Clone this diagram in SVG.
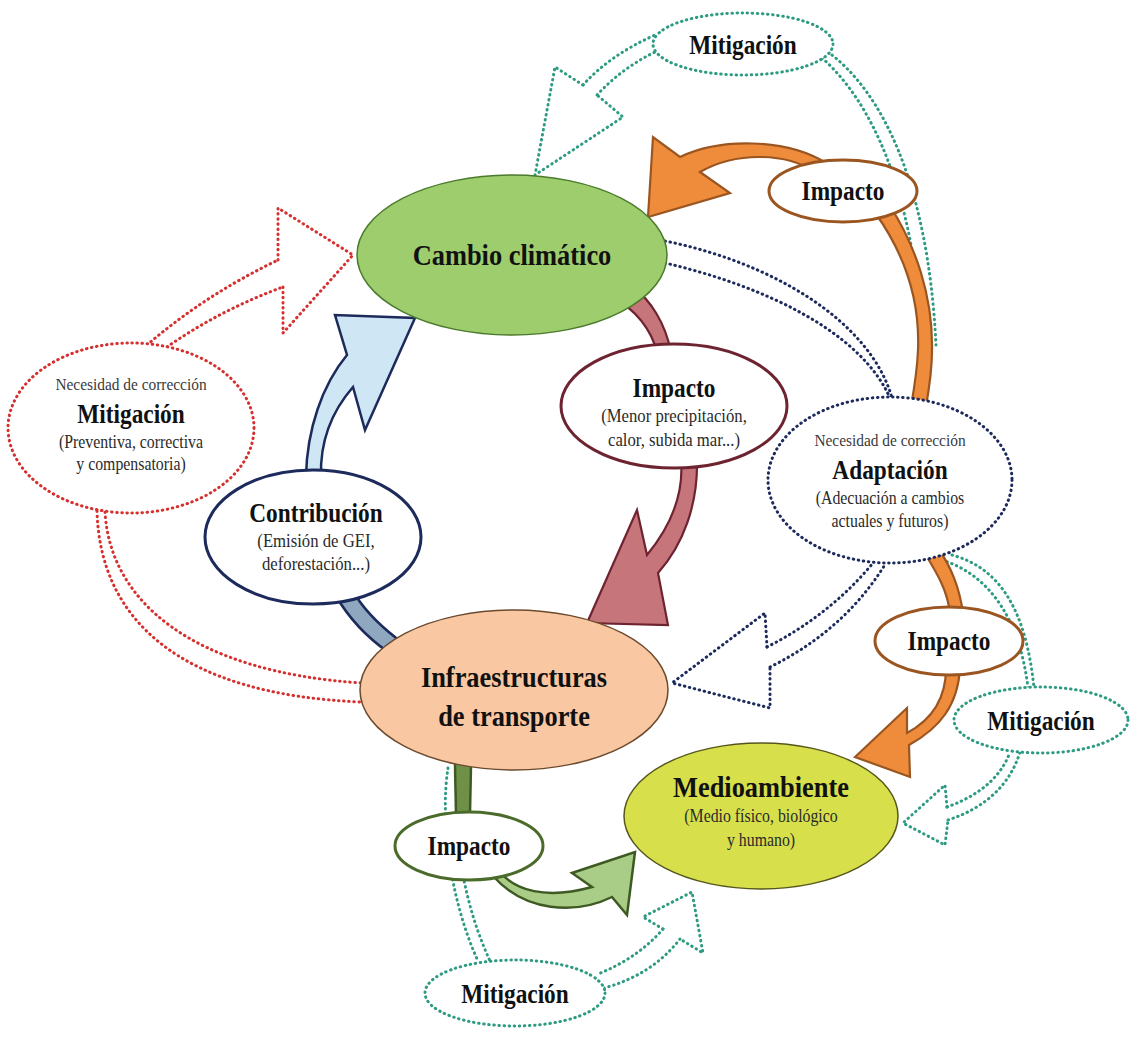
<svg xmlns="http://www.w3.org/2000/svg" width="1130" height="1037" viewBox="0 0 1130 1037">
<style>
.dot{fill:none;stroke-width:3;stroke-linecap:round;stroke-linejoin:round;stroke-dasharray:0.5 4.6}
.red{stroke:#d6302e}
.navy{stroke:#1c2a5c}
.teal{stroke:#2d9b82}
.dn{fill:#fff}
.or{fill:#ee8c3c;stroke:#9a5521;stroke-width:2.2;stroke-linejoin:miter}
.mr{fill:#c6767b;stroke:#6e2430;stroke-width:2.2}
.bl{fill:#cfe6f5;stroke:#1c2a5c;stroke-width:2.5}
.bl2{fill:#8fa8bf;stroke:#1c2a5c;stroke-width:2.5}
.gr{fill:#a9cc86;stroke:#3e5a23;stroke-width:2.5}
.gr2{fill:#6f9147;stroke:#3e5a23;stroke-width:2.5}
.wo{fill:#fff;stroke-width:3}
.t{font-family:"Liberation Serif","Times New Roman",serif;text-anchor:middle;fill:#111}
.b30{font-weight:bold;font-size:30px}
.b26{font-weight:bold;font-size:26.5px}
.s19{font-size:19px;fill:#2a2a2a}
.s18{font-size:18px;fill:#2a2a2a}
.s17{font-size:17.5px;fill:#3a3a3a}
</style>
<rect width="1130" height="1037" fill="#fff"/>
<g id="connectors">
 <path class="dot teal" d="M583,85 Q610,55 655,35"/>
 <path class="dot teal" d="M597,95 Q622,68 655,52"/>
 <path class="dot teal" d="M583,85 L555,67 L535,175 L623,117 L597,95"/>
 <path class="dot teal" d="M828,52 C880,90 928,180 936,345"/>
 <path class="dot teal" d="M822,58 C870,100 915,190 922,345"/>
 <path class="dot teal" d="M942,560 C990,575 1020,620 1028,688"/>
 <path class="dot teal" d="M952,555 C1000,568 1026,610 1034,688"/>
 <path class="dot teal" d="M947,807 C975,797 1000,780 1010,752"/>
 <path class="dot teal" d="M948,820 C985,808 1010,785 1020,752"/>
 <path class="dot teal" d="M947,807 L945,785 L903,823 L945,845 L948,820"/>
 <path class="dot teal" d="M448,768 C440,820 450,900 478,961"/>
 <path class="dot teal" d="M458,770 C452,830 462,900 490,961"/>
 <path class="dot teal" d="M663,929 Q638,958 598,974"/>
 <path class="dot teal" d="M680,939 Q652,975 604,988"/>
 <path class="dot teal" d="M663,929 L643,917 L692,892 L703,953 L680,939"/>
 <path class="dot red" d="M147,345 Q205,295 278,260"/>
 <path class="dot red" d="M167,347 Q220,310 283,287"/>
 <path class="dot red" d="M278,260 L278,208 L353,255 L283,333 L283,287"/>
 <path class="dot red" d="M105,512 C110,600 190,672 362,683"/>
 <path class="dot red" d="M97,511 C100,620 180,695 362,702"/>
 <path class="dot navy" d="M665,241 C770,262 870,320 892,398"/>
 <path class="dot navy" d="M665,263 C760,285 860,330 890,398"/>
 <path class="dot navy" d="M767,647 Q830,615 873,563"/>
 <path class="dot navy" d="M770,667 Q845,630 886,563"/>
 <path class="dot navy" d="M767,647 L765,613 L672,683 L770,708 L770,667"/>
 <path class="or" d="M653,137 L648,217 L730,193 L700,172 C735,152 785,152 815,172 L826,163 C785,138 720,138 680,157 Z"/>
 <path class="or" d="M876,214 C905,255 920,300 918,350 C917,375 913,395 910,412 L925,412 C928,395 932,375 932,350 C933,295 915,245 890,206 Z"/>
 <path class="or" d="M924,552 C935,570 948,590 950,614 L963,614 C960,588 950,565 939,550 Z"/>
 <path class="or" d="M946,668 C946,695 935,718 907,733 L907,708 L855,757 L910,777 L909,745 C940,728 958,705 960,668 Z"/>
 <path class="mr" d="M612,296 C632,308 650,325 657,352 L671,352 C665,322 650,300 634,288 Z"/>
 <path class="mr" d="M681,460 C684,495 670,527 647,555 L637,510 L587,623 L668,625 L658,573 C683,545 698,505 697,460 Z"/>
 <path class="bl" d="M306,476 C307,430 322,385 347,355 L335,315 L415,318 L365,430 L353,387 C333,410 320,440 321,476 Z"/>
 <path class="bl2" d="M336,596 C350,620 368,638 388,652 L404,644 C385,630 368,615 356,596 Z"/>
 <path class="gr2" d="M455,760 C455,780 456,800 456,820 L470,820 C470,800 471,780 471,760 Z"/>
 <path class="gr" d="M500,872 C515,890 545,900 592,887 L572,873 L635,852 L627,915 L612,897 C575,915 525,912 493,876 Z"/>
</g>
<g id="cambio-climatico">
 <ellipse cx="512" cy="255" rx="155" ry="80" fill="#9dcd6d" stroke="#4b7a2c" stroke-width="1.5"/>
 <text class="t b30" transform="matrix(.88 0 0 1 512 0)" x="0" y="265">Cambio climático</text>
</g>
<g id="infraestructuras">
 <ellipse cx="514" cy="690" rx="154" ry="80" fill="#f9c8a2" stroke="#6b4a2e" stroke-width="1.5"/>
 <text class="t b30" transform="matrix(.88 0 0 1 514 0)" x="0" y="687">Infraestructuras</text>
 <text class="t b30" transform="matrix(.88 0 0 1 514 0)" x="0" y="726">de transporte</text>
</g>
<g id="medioambiente">
 <ellipse cx="761" cy="816" rx="137" ry="73" fill="#d7e04b" stroke="#55561c" stroke-width="1.5"/>
 <text class="t b30" transform="matrix(.88 0 0 1 761 0)" x="0" y="797">Medioambiente</text>
 <text class="t s18" transform="matrix(.88 0 0 1 761 0)" x="0" y="822">(Medio físico, biológico</text>
 <text class="t s18" transform="matrix(.88 0 0 1 761 0)" x="0" y="846">y humano)</text>
</g>
<g id="contribucion">
 <ellipse class="wo" cx="313" cy="537" rx="108" ry="67" stroke="#1c2a5c"/>
 <text class="t b26" transform="matrix(.88 0 0 1 316 0)" x="0" y="522">Contribución</text>
 <text class="t s19" transform="matrix(.88 0 0 1 316 0)" x="0" y="547">(Emisión de GEI,</text>
 <text class="t s19" transform="matrix(.88 0 0 1 316 0)" x="0" y="570">deforestación...)</text>
</g>
<g id="impacto-centro">
 <ellipse class="wo" cx="674" cy="406" rx="113" ry="62" stroke="#6e2430"/>
 <text class="t b26" transform="matrix(.88 0 0 1 674 0)" x="0" y="397">Impacto</text>
 <text class="t s19" transform="matrix(.88 0 0 1 674 0)" x="0" y="422">(Menor precipitación,</text>
 <text class="t s19" transform="matrix(.88 0 0 1 674 0)" x="0" y="446">calor, subida mar...)</text>
</g>
<g id="adaptacion">
 <ellipse class="dot navy dn" cx="890" cy="480" rx="122" ry="83"/>
 <text class="t s17" transform="matrix(.88 0 0 1 890 0)" x="0" y="446">Necesidad de corrección</text>
 <text class="t b26" transform="matrix(.88 0 0 1 890 0)" x="0" y="479">Adaptación</text>
 <text class="t s18" transform="matrix(.88 0 0 1 890 0)" x="0" y="504">(Adecuación a cambios</text>
 <text class="t s18" transform="matrix(.88 0 0 1 890 0)" x="0" y="527">actuales y futuros)</text>
</g>
<g id="mitigacion-izquierda">
 <ellipse class="dot red dn" cx="131" cy="428" rx="123" ry="85"/>
 <text class="t s17" transform="matrix(.88 0 0 1 131 0)" x="0" y="390">Necesidad de corrección</text>
 <text class="t b26" transform="matrix(.88 0 0 1 131 0)" x="0" y="423">Mitigación</text>
 <text class="t s18" transform="matrix(.88 0 0 1 131 0)" x="0" y="448">(Preventiva, correctiva</text>
 <text class="t s18" transform="matrix(.88 0 0 1 131 0)" x="0" y="470">y compensatoria)</text>
</g>
<g id="impacto-superior">
 <ellipse class="wo" cx="843" cy="191" rx="74" ry="31" stroke="#9a5521"/>
 <text class="t b26" transform="matrix(.88 0 0 1 843 0)" x="0" y="200">Impacto</text>
</g>
<g id="impacto-derecha">
 <ellipse class="wo" cx="949" cy="641" rx="74" ry="34" stroke="#9a5521"/>
 <text class="t b26" transform="matrix(.88 0 0 1 949 0)" x="0" y="650">Impacto</text>
</g>
<g id="impacto-inferior">
 <ellipse class="wo" cx="469" cy="846" rx="74" ry="34" stroke="#4a6b2a"/>
 <text class="t b26" transform="matrix(.88 0 0 1 469 0)" x="0" y="855">Impacto</text>
</g>
<g id="mitigacion-superior">
 <ellipse class="dot teal dn" cx="743" cy="44" rx="90" ry="31"/>
 <text class="t b26" transform="matrix(.88 0 0 1 743 0)" x="0" y="54">Mitigación</text>
</g>
<g id="mitigacion-derecha">
 <ellipse class="dot teal dn" cx="1041" cy="720" rx="87" ry="33"/>
 <text class="t b26" transform="matrix(.88 0 0 1 1041 0)" x="0" y="730">Mitigación</text>
</g>
<g id="mitigacion-inferior">
 <ellipse class="dot teal dn" cx="515" cy="993" rx="90" ry="33"/>
 <text class="t b26" transform="matrix(.88 0 0 1 515 0)" x="0" y="1003">Mitigación</text>
</g>
</svg>
